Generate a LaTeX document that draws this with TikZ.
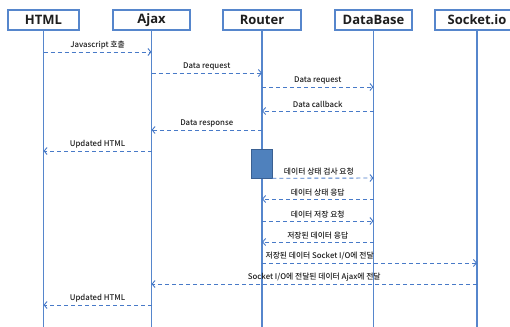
\documentclass[tikz,border=0pt]{standalone}
\usepackage{fontspec}
\setmainfont{Noto Sans CJK KR}
\newfontfamily\headfont{Open Sans}
\newfontfamily\lblfont{Noto Sans CJK KR Medium}
\usetikzlibrary{arrows.meta}
\definecolor{lineblue}{RGB}{86,134,204}
\definecolor{msgblue}{RGB}{72,122,200}
\definecolor{actfill}{RGB}{79,129,189}
\definecolor{actedge}{RGB}{58,96,146}
\definecolor{txt}{RGB}{30,30,30}
\tikzset{
  head/.style={draw=lineblue, line width=1.5pt, fill=white, minimum height=20pt,
    inner sep=0pt, text=txt, font=\headfont\bfseries\fontsize{13}{14}\selectfont},
  life/.style={draw=lineblue, line width=1.6pt},
  msg/.style={draw=msgblue, line width=0.9pt, dash pattern=on 4pt off 3pt,
    -{Straight Barb[length=3pt,width=7pt,line width=0.9pt]}},
  lbl/.style={font=\lblfont\fontsize{7.8}{8}\selectfont, text=txt, inner sep=1pt},
  act/.style={draw=actedge, line width=0.6pt, fill=actfill, inner sep=0pt}
}
\begin{document}
\begin{tikzpicture}[x=1pt,y=-1pt]
\useasboundingbox (0,0) rectangle (510,326);
\clip (0,0) rectangle (510,326);

% participants
\node[head, minimum width=71pt] (html)   at (43.5,20) {HTML};
\node[head, minimum width=77pt] (ajax)   at (151.5,20) {Ajax};
\node[head, minimum width=78pt] (router) at (262,20) {Router};
\node[head, minimum width=77pt] (db)     at (373.5,20) {DataBase};
\node[head, minimum width=84pt] (sock)   at (477,20) {Socket.io};

% lifelines
\foreach \p in {html,ajax,router,db,sock}{
  \coordinate (\p-end) at (\p |- 0,330);
  \draw[life] (\p.south) -- (\p-end);
}

% activation on Router
\node[act, minimum width=21pt, minimum height=29pt] (act) at (261.5,163.5) {};

% message rows
\foreach \n/\y in {1/52,2/73,3/87,4/111,5/130,6/151,8/199,9/221,10/242,11/263,12/284,13/305}{
  \coordinate (m\n) at (0,\y);
}
\coordinate (m7) at (0,178);

\draw[msg] (html |- m1) -- node[lbl, above=1.5pt] {Javascript 호출} (ajax |- m1);
\draw[msg] (ajax |- m2) -- node[lbl, above=1.5pt] {Data request} (router |- m2);
\draw[msg] (router |- m3) -- node[lbl, above=1.5pt] {Data request} (db |- m3);
\draw[msg] (db |- m4) -- node[lbl, above=1.5pt] {Data callback} (router |- m4);
\draw[msg] (router |- m5) -- node[lbl, above=1.5pt] {Data response} (ajax |- m5);
\draw[msg] (ajax |- m6) -- node[lbl, above=1.5pt] {Updated HTML} (html |- m6);
\draw[msg] (act.south east) -- node[lbl, above=1.5pt, xshift=-4pt] {데이터 상태 검사 요청} (db |- m7);
\draw[msg] (db |- m8) -- node[lbl, above=1.5pt] {데이터 상태 응답} (router |- m8);
\draw[msg] (router |- m9) -- node[lbl, above=1.5pt] {데이터 저장 요청} (db |- m9);
\draw[msg] (db |- m10) -- node[lbl, above=1.5pt] {저장된 데이터 응답} (router |- m10);
\draw[msg] (router |- m11) -- node[lbl, above=1.5pt, pos=0.01, anchor=south west] {저장된 데이터 Socket I/O에 전달} (sock |- m11);
\draw[msg] (sock |- m12) -- node[lbl, above=1.5pt] {Socket I/O에 전달된 데이터 Ajax에 전달} (ajax |- m12);
\draw[msg] (ajax |- m13) -- node[lbl, above=1.5pt] {Updated HTML} (html |- m13);
\end{tikzpicture}
\end{document}
